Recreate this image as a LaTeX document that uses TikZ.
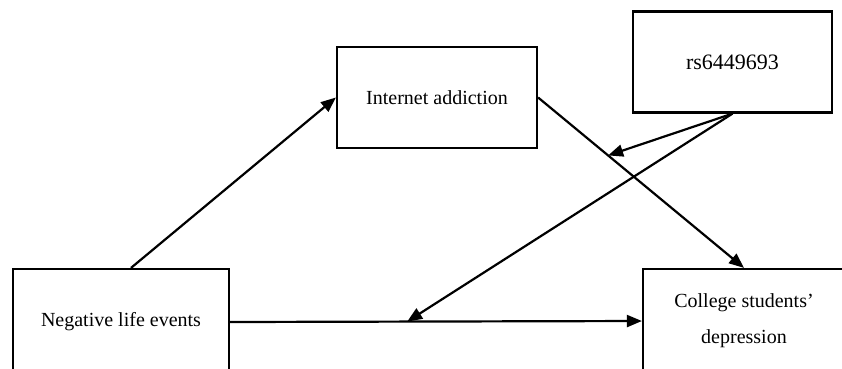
\documentclass[tikz,border=0pt]{standalone}
\usepackage{fontspec}
\setmainfont{Liberation Serif}
\usetikzlibrary{arrows.meta,calc}
\tikzset{
  box/.style={draw, line width=2.2pt, rectangle, inner sep=0pt, align=center,
    font=\fontsize{20}{36}\selectfont},
  conn/.style={line width=2.2pt, -{Triangle[length=15pt,width=12pt]}}
}
\begin{document}
\begin{tikzpicture}[x=1pt,y=-1pt]
\clip (0,0) rectangle (842,368);
\fill[white] (0,0) rectangle (842,368);
\node[box, minimum width=216pt, minimum height=106pt] (neg) at (121,322) {Negative life events};
\node[box, minimum width=200pt, minimum height=101pt] (int) at (437,97.5) {Internet addiction};
\node[box, minimum width=199pt, minimum height=101pt, font=\fontsize{22}{26}\selectfont] (rs) at (732.5,62) {rs6449693};
\node[box, minimum width=202pt, minimum height=104pt] (col) at (744,321) {College students’\\depression};
\coordinate (m1) at ($(int.east)!0.34!(col.north)$);
\coordinate (m2) at ($(neg.east)!0.43!(col.west)$);
\draw[conn] ([xshift=10pt]neg.north) -- (int.west);
\draw[conn] (int.east) -- (col.north);
\draw[conn] (neg.east) -- (col.west);
\draw[conn] (rs.south) -- (m1);
\draw[conn] (rs.south) -- (m2);
\end{tikzpicture}
\end{document}
